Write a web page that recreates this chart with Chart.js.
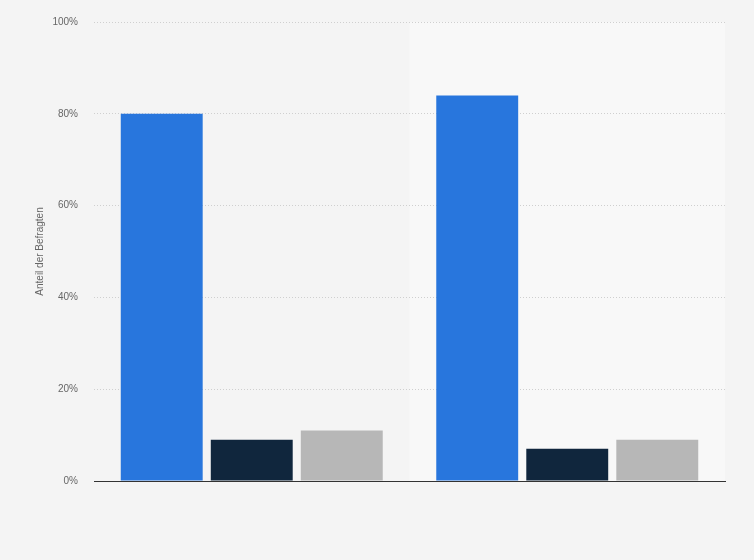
<!DOCTYPE html>
<html>
<head>
<meta charset="utf-8">
<script src="https://cdn.jsdelivr.net/npm/chart.js@4"></script>
<style>
  html, body { margin: 0; padding: 0; background: #f4f4f4; }
  #wrap { width: 754px; height: 560px; }
</style>
</head>
<body>
<div id="wrap"><canvas id="myChart" width="754" height="560"></canvas></div>
<script>
// Daten
const categories = ['Gruppe 1', 'Gruppe 2'];
const seriesNames = ['Antwort A', 'Antwort B', 'Antwort C'];
const seriesA = [80, 84];
const seriesB = [9, 7];
const seriesC = [11, 9];
const yTicks = [0, 20, 40, 60, 80, 100];

const colors = ['#2876dd', '#10263d', '#b7b7b7'];

// hellerer Hintergrund hinter der zweiten Kategorie
const highlightPlugin = {
    id: 'highlight',
    beforeDraw(chart) {
        const { ctx, chartArea, scales } = chart;
        ctx.save();
        ctx.fillStyle = '#f4f4f4';
        ctx.fillRect(0, 0, chart.width, chart.height);
        const x = scales.x;
        const half = (x.getPixelForValue(1) - x.getPixelForValue(0)) / 2;
        const cx = x.getPixelForValue(1);
        ctx.fillStyle = '#f8f8f8';
        ctx.fillRect(cx - half, chartArea.top, half * 2, chartArea.bottom - chartArea.top);
        ctx.restore();
    }
};

const ctx = document.getElementById('myChart').getContext('2d');
const myChart = new Chart(ctx, {
    type: 'bar',
    data: {
        labels: categories,
        datasets: [seriesA, seriesB, seriesC].map((data, i) => ({
            label: seriesNames[i],
            data: data,
            backgroundColor: colors[i],
            categoryPercentage: 0.856,
            barPercentage: 0.91
        }))
    },
    options: {
        responsive: false,
        animation: false,
        layout: {
            padding: { top: 20, right: 29, bottom: 79, left: 0 }
        },
        plugins: {
            legend: { display: false },
            tooltip: { enabled: false }
        },
        scales: {
            x: {
                ticks: { display: false },
                grid: { display: false },
                border: { display: true, color: '#333', width: 1 },
                afterFit(scale) { scale.height = 0; }
            },
            y: {
                min: 0,
                max: 100,
                afterBuildTicks(scale) {
                    scale.ticks = yTicks.map(v => ({ value: v }));
                },
                afterFit(scale) { scale.width = 94; },
                ticks: {
                    padding: 16,
                    color: '#666',
                    font: { family: 'Liberation Sans', size: 10 },
                    callback: v => v + '%'
                },
                grid: {
                    color: '#cfcfcf',
                    drawTicks: false
                },
                border: { display: false, dash: [1, 2] },
                title: {
                    display: true,
                    text: 'Anteil der Befragten',
                    color: '#666',
                    font: { family: 'Liberation Sans', size: 10 },
                    padding: { top: 34, bottom: 0 }
                }
            }
        }
    },
    plugins: [highlightPlugin]
});
</script>
</body>
</html>
